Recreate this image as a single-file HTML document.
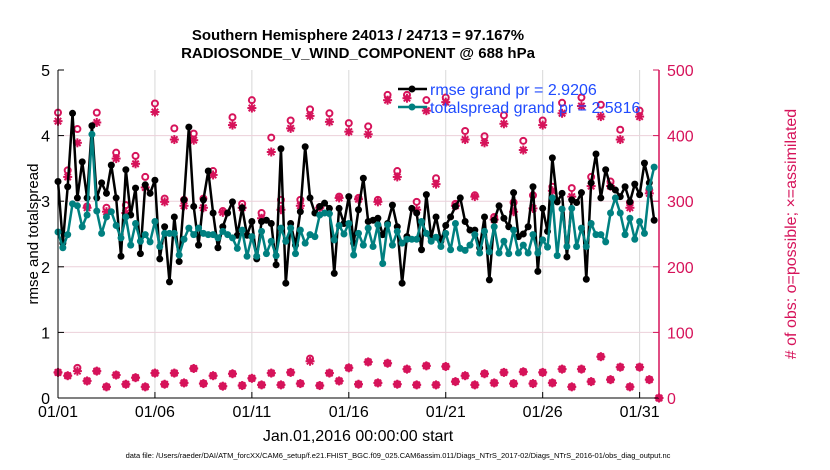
<!DOCTYPE html>
<html><head><meta charset="utf-8"><style>
body{margin:0;background:#fff;}
svg{display:block;font-family:"Liberation Sans",sans-serif;}
</style></head><body>
<svg id="chart" width="830" height="470" viewBox="0 0 830 470" xmlns="http://www.w3.org/2000/svg">
<rect width="830" height="470" fill="#fff"/>
<text x="358" y="40" text-anchor="middle" font-size="15" font-weight="bold">Southern Hemisphere 24013 / 24713 = 97.167%</text>
<text x="358" y="58" text-anchor="middle" font-size="15" font-weight="bold">RADIOSONDE_V_WIND_COMPONENT @ 688 hPa</text>
<g id="grid"></g>
<g id="marks"></g>
<g id="axes"></g>
<text transform="translate(38,234) rotate(-90)" text-anchor="middle" font-size="15">rmse and totalspread</text>
<text transform="translate(796,234) rotate(-90)" text-anchor="middle" font-size="16" fill="#d6135a"># of obs: o=possible; ×=assimilated</text>
<text x="358" y="441" text-anchor="middle" font-size="16">Jan.01,2016 00:00:00 start</text>
<text x="398" y="458" text-anchor="middle" font-size="7.5">data file: /Users/raeder/DAI/ATM_forcXX/CAM6_setup/f.e21.FHIST_BGC.f09_025.CAM6assim.011/Diags_NTrS_2017-02/Diags_NTrS_2016-01/obs_diag_output.nc</text>
<g id="legend">
<line x1="398" y1="89" x2="427" y2="89" stroke="#000" stroke-width="2.5"/><circle cx="412" cy="89" r="3.5" fill="#000"/>
<text x="430" y="95" font-size="16" fill="#1f4bff">rmse grand pr = 2.9206</text>
<line x1="398" y1="107" x2="427" y2="107" stroke="#008080" stroke-width="2.5"/><circle cx="412" cy="107" r="3.5" fill="#008080"/>
<text x="430" y="113" font-size="16" fill="#1f4bff">totalspread grand pr = 2.5816</text>
</g>
</svg>
<script>
const rmse=[3.30,2.36,3.22,4.34,3.05,3.6,3.05,4.15,3.05,3.28,3.12,3.55,3.05,2.16,3.48,2.79,3.2,2.2,3.25,3.12,3.32,2.12,2.61,1.77,2.76,2.08,3.02,4.13,2.92,2.33,3.02,3.46,2.82,2.29,2.61,2.82,2.99,2.48,2.9,2.48,2.69,2.12,
2.69,2.71,2.66,2.03,3.8,1.75,2.66,2.33,2.84,3.83,3.05,2.82,2.92,2.97,2.89,1.90,2.89,2.66,3.07,2.36,2.87,3.35,2.69,2.71,2.74,2.49,2.66,2.94,2.61,1.75,2.46,2.89,2.82,2.26,3.1,2.44,2.76,2.39,2.63,2.76,2.92,3.05,
2.69,2.56,2.56,2.29,2.76,1.80,2.71,2.93,2.74,2.61,3.13,2.46,2.5,2.61,3.22,1.93,2.89,2.54,3.66,2.99,3.12,2.15,3.02,2.98,3.13,1.81,3.28,3.72,3.05,3.48,3.22,3.17,3.07,3.22,2.99,3.26,3.1,3.58,3.28,2.71];
const spread=[2.53,2.29,2.49,2.96,2.93,2.61,2.79,4.02,2.85,2.51,2.76,2.84,2.63,2.44,2.76,2.33,2.66,2.39,2.49,2.38,2.69,2.31,2.51,2.51,2.51,2.18,2.42,2.59,2.49,2.59,2.51,2.49,2.49,2.44,2.54,2.49,2.44,2.28,2.56,2.16,2.46,2.16,
2.54,2.2,2.39,2.17,2.59,2.39,2.59,2.2,2.56,2.36,2.49,2.46,2.79,2.82,2.81,2.41,2.63,2.5,2.66,2.18,2.51,2.33,2.59,2.31,2.64,2.05,2.64,2.33,2.54,2.36,2.42,2.42,2.42,2.69,2.51,2.39,2.45,2.31,2.51,2.26,2.66,2.28,
2.25,2.33,2.49,2.21,2.54,2.23,2.61,2.21,2.39,2.2,2.56,2.21,2.33,2.21,2.49,2.21,2.41,2.3,3.05,2.17,2.88,2.31,2.89,2.31,2.59,2.31,2.66,2.49,2.49,2.38,2.82,3.05,2.82,2.49,2.74,2.42,2.69,2.51,3.2,3.52];
const possTop=[435,347,410,292,435,290,374,294,369,337,449,304,411,302,403,304,346,285,428,296,454,282,
397,302,423,302,440,291,434,307,419,305,414,302,462,346,462,299,454,335,458,296,
407,309,399,276,431,298,392,309,423,322,450,320,458,337,447,330,409,298,438,317];
const assimTop=[422,337,389,290,420,284,365,282,357,321,436,299,394,293,393,290,340,283,416,290,442,274,
375,287,411,293,430,290,421,305,406,303,402,299,454,337,457,287,438,326,451,293,
394,307,389,272,418,284,378,289,416,316,434,307,445,323,429,323,394,290,429,312];
const assimBot=[39,34,41,26,41,17,35,21,31,17,38,21,38,23,45,22,34,18,37,19,30,20,38,20,39,22,56,19,38,26,46,
21,55,23,53,21,44,20,49,20,48,25,34,20,37,23,39,22,40,22,39,23,44,17,44,25,63,28,47,17,47,28,0];
const possBot=[39,34,46,26,41,17,35,21,31,17,38,21,38,23,45,22,34,18,37,19,30,20,38,20,39,22,60,19,38,26,46,
21,55,23,53,21,44,20,49,20,48,25,34,20,37,23,39,22,40,22,39,23,44,17,44,25,63,28,47,17,47,28,0];
const xTickDays=[1,6,11,16,21,26,31];
const xTickLabels=['01/01','01/06','01/11','01/16','01/21','01/26','01/31'];
const yTicks=[0,1,2,3,4,5];
const y2Ticks=[0,100,200,300,400,500];

const L=58,R=659,T=70,B=398,dayMin=1,dayMax=32.0;
const xs=d=>L+(d-dayMin)/(dayMax-dayMin)*(R-L);
const ys=v=>B-v/5*(B-T);
const y2s=v=>B-v/500*(B-T);
const NS='http://www.w3.org/2000/svg';
function mk(tag,at,parent){const e=document.createElementNS(NS,tag);for(const k in at)e.setAttribute(k,at[k]);parent.appendChild(e);return e;}
const grid=document.getElementById('grid'),marks=document.getElementById('marks'),axes=document.getElementById('axes');
const MAG='#d6135a';

xTickDays.forEach((d,i)=>{
  const g=mk('line',{x1:xs(d),x2:xs(d),y1:T,y2:B,stroke:'#d8d8d8','stroke-width':1},grid);
  
  
  const t=mk('line',{x1:xs(d),x2:xs(d),y1:B,y2:B-6,stroke:'#000'},axes);
  
  
  const tx=mk('text',{x:xs(d),y:B+19,'text-anchor':'middle','font-size':16},axes);
  tx.textContent=xTickLabels[i];
  
  
});
y2Ticks.forEach(v=>{
  if(v>0&&v<500){const g=mk('line',{x1:L,x2:R,y1:y2s(v),y2:y2s(v),stroke:'#ecd0da','stroke-width':1},grid);
  
  }
  const t=mk('line',{x1:R,x2:R-6,y1:y2s(v),y2:y2s(v),stroke:MAG},axes);
  
  
  const tx=mk('text',{x:R+8,y:y2s(v)+6,'font-size':16,fill:MAG},axes);
  tx.textContent=v;
  
  
});
yTicks.forEach(v=>{
  const t=mk('line',{x1:L,x2:L+6,y1:ys(v),y2:ys(v),stroke:'#000'},axes);
  
  
  const tx=mk('text',{x:L-8,y:ys(v)+6,'text-anchor':'end','font-size':16},axes);
  tx.textContent=v;
  
  
});
const ax1=mk('line',{x1:L,x2:L,y1:T,y2:B,stroke:'#000','stroke-width':1},axes);


const ax2=mk('line',{x1:L,x2:R,y1:B,y2:B,stroke:'#000','stroke-width':1},axes);


const ax3=mk('line',{x1:R,x2:R,y1:T,y2:B,stroke:MAG,'stroke-width':1.5},axes);



function star(cx,cy){
  const g=mk('g',{stroke:MAG,'stroke-width':2},marks);
  
  
  const r=4.5;
  mk('line',{x1:cx-r,x2:cx+r,y1:cy,y2:cy},g);
  mk('line',{x1:cx,x2:cx,y1:cy-r,y2:cy+r},g);
  mk('line',{x1:cx-3.2,x2:cx+3.2,y1:cy-3.2,y2:cy+3.2},g);
  mk('line',{x1:cx-3.2,x2:cx+3.2,y1:cy+3.2,y2:cy-3.2},g);
}
function ring(cx,cy){
  const c=mk('circle',{cx:cx,cy:cy,r:3,fill:'none',stroke:MAG,'stroke-width':2},marks);
  
  
}
possTop.forEach((v,i)=>{const x=xs(dayMin+i*0.5);ring(x,y2s(v));star(x,y2s(assimTop[i]));});
possBot.forEach((v,i)=>{const x=xs(dayMin+i*0.5);ring(x,y2s(v));star(x,y2s(assimBot[i]));});

function series(arr,color,name){
  const pts=arr.map((v,i)=>xs(dayMin+i*0.25)+','+ys(v)).join(' ');
  const p=mk('polyline',{points:pts,fill:'none',stroke:color,'stroke-width':2.5,'stroke-linejoin':'round'},marks);
  
  
  arr.forEach((v,i)=>{
    const c=mk('circle',{cx:xs(dayMin+i*0.25),cy:ys(v),r:3.5,fill:color},marks);
    
    
  });
}
series(rmse,'#000','rmse');
series(spread,'#008080','totalspread');
document.getElementById('chart').appendChild(document.getElementById('legend'));
</script>
</body></html>
